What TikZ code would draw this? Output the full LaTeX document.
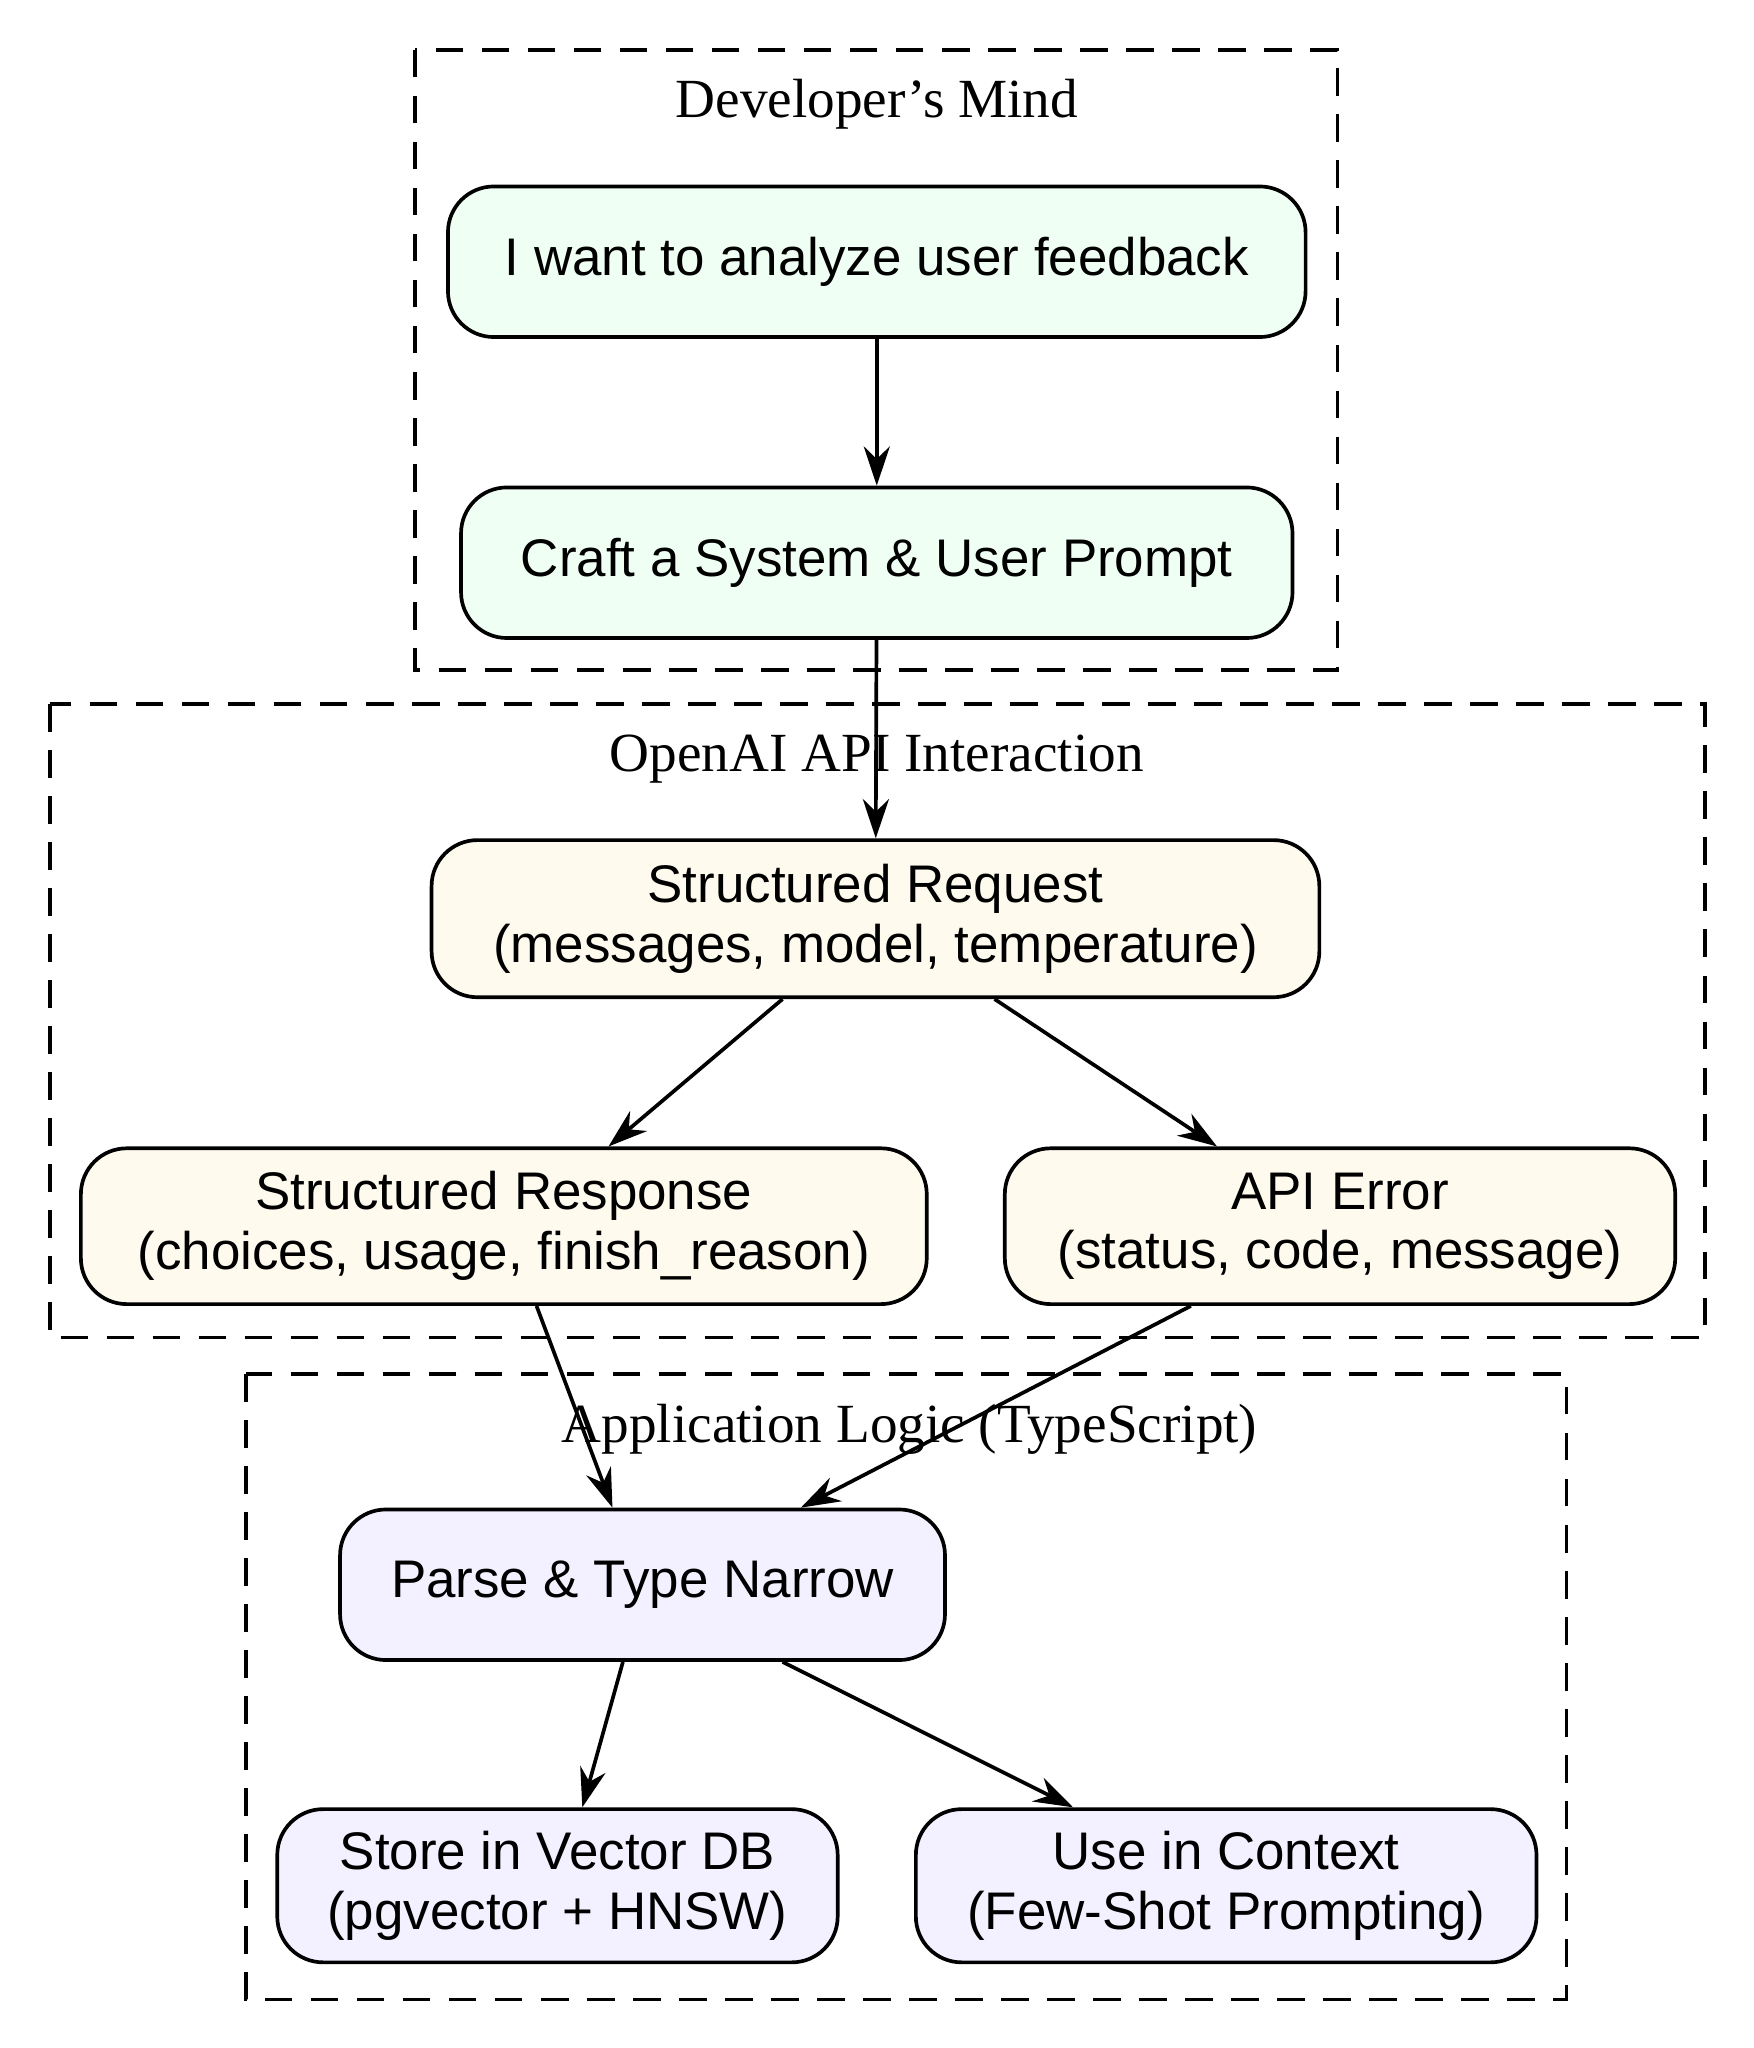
\documentclass[tikz,border=0pt]{standalone}
\usepackage{fontspec}
\setmainfont{Liberation Serif}
\newfontfamily\nodefont{Liberation Sans}
\usetikzlibrary{arrows.meta,calc}
\begin{document}
\begin{tikzpicture}[x=0.01cm,y=-0.01cm,
 box/.style={draw,line width=0.8pt,rounded corners=0.35cm,font=\nodefont\fontsize{11.5}{13}\selectfont,align=center,inner sep=0,anchor=center},
 clus/.style={draw,dashed,line width=0.8pt,dash pattern=on 6pt off 4pt},
 lab/.style={font=\fontsize{12}{14}\selectfont},
 arr/.style={-{Stealth[length=0.3cm,width=0.2cm]},line width=0.8pt}]
\useasboundingbox (0,0) rectangle (1340,1565);
\definecolor{g}{HTML}{F0FFF4}\definecolor{y}{HTML}{FFFAEE}\definecolor{p}{HTML}{F3F0FF}
\draw[clus] (317,38) rectangle (1022,512);
\node[lab] (l1) at (670,80) {Developer's Mind};
\draw[clus] (38,538) rectangle (1303,1022);
\node[lab] (l2) at (670,580) {OpenAI API Interaction};
\draw[clus] (188,1050) rectangle (1197,1528);
\node[lab] (l3) at (695,1092) {Application Logic (TypeScript)};
\node[box,fill=g,minimum width=6.55cm,minimum height=1.15cm] (A) at (670,200) {I want to analyze user feedback};
\node[box,fill=g,minimum width=6.35cm,minimum height=1.15cm] (B) at (670,430) {Craft a System \& User Prompt};
\node[box,fill=y,minimum width=6.78cm,minimum height=1.2cm] (C) at (669,702) {Structured Request\\(messages, model, temperature)};
\node[box,fill=y,minimum width=6.46cm,minimum height=1.19cm] (D) at (385,937) {Structured Response\\(choices, usage, finish\_reason)};
\node[box,fill=y,minimum width=5.12cm,minimum height=1.19cm] (E) at (1024,937) {API Error\\(status, code, message)};
\node[box,fill=p,minimum width=4.62cm,minimum height=1.15cm] (F) at (491,1211) {Parse \& Type Narrow};
\node[box,fill=p,minimum width=4.28cm,minimum height=1.17cm] (G) at (426,1441) {Store in Vector DB\\(pgvector + HNSW)};
\node[box,fill=p,minimum width=4.74cm,minimum height=1.17cm] (H) at (937,1441) {Use in Context\\(Few-Shot Prompting)};
\draw[arr] (A) -- (B);
\draw[arr] (B) -- (C);
\draw[arr] ($(C.south)+(-71,0)$) -- ($(D.north)+(80,0)$);
\draw[arr] ($(C.south)+(91,0)$) -- ($(E.north)+(-94,0)$);
\draw[arr] ($(D.south)+(25,0)$) -- ($(F.north)+(-23,0)$);
\draw[arr] ($(E.south)+(-114,0)$) -- ($(F.north)+(121,0)$);
\draw[arr] ($(F.south)+(-15,0)$) -- ($(G.north)+(19,0)$);
\draw[arr] ($(F.south)+(107,0)$) -- ($(H.north)+(-117,0)$);
\end{tikzpicture}
\end{document}
